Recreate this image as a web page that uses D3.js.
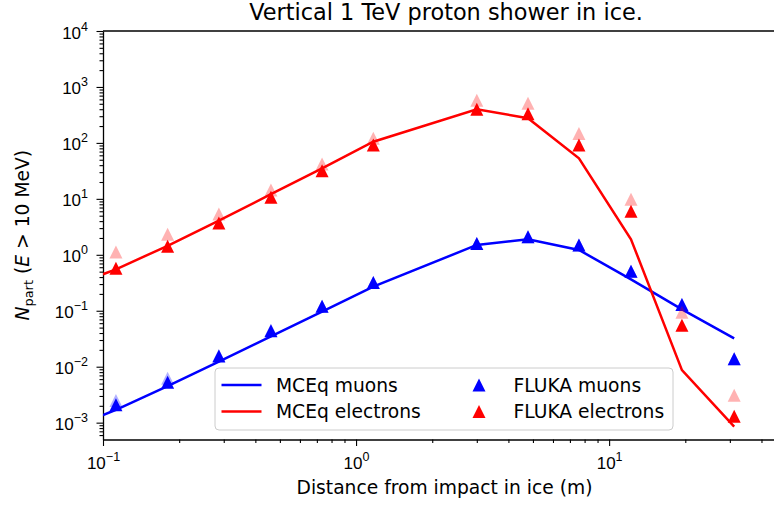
<!DOCTYPE html>
<html>
<head>
<meta charset="utf-8">
<script src="https://cdn.jsdelivr.net/npm/d3@7"></script>
<style>
  body { margin: 0; background: #fff; }
  svg { display: block; font-family: "DejaVu Sans", sans-serif; }
  .tick line { stroke: #000; stroke-width: 1.1; }
  .domain { stroke: #000; stroke-width: 1.3; }
</style>
</head>
<body>
<div id="chart"></div>
<script>
// distances (m)
const flukaX = [0.1125, 0.180, 0.287, 0.461, 0.734, 1.17, 3.00, 4.78, 7.60, 12.2, 19.4, 31.2];
const mceqX = [0.1, 0.1125, 0.180, 0.287, 0.461, 0.734, 1.17, 3.00, 4.78, 7.60, 12.2, 19.4, 31.2];

const mceqMuons = [1.36e-3, 1.7e-3, 4.5e-3, 0.0123, 0.035, 0.096, 0.27, 1.5, 1.89, 1.22, 0.365, 0.106, 0.032];
const mceqElectrons = [0.45, 0.55, 1.45, 4.07, 12.1, 35.2, 105, 400, 276, 53, 1.9, 8.7e-3, 8.5e-4];

const flukaMuons = [2.1e-3, 5.3e-3, 0.0155, 0.044, 0.12, 0.32, 1.6, 2.1, 1.5, 0.51, 0.13, 0.0139];
const flukaElectrons = [0.574, 1.42, 3.7, 10.7, 31.7, 92, 400, 333, 92, 6.0, 0.055, 1.3e-3];
// second (faint) FLUKA set, no legend entry
const flukaMuonsAlt = [2.5e-3, 6.2e-3, 0.0158, 0.045, 0.12, 0.32, 1.6, 2.1, 1.5, 0.51, 0.13, 0.0139];
const flukaElectronsAlt = [1.12, 2.32, 5.36, 14.4, 42, 121, 578, 510, 148, 9.8, 0.094, 3.1e-3];

const xMajor = [0.1, 1, 10];
const yMajor = [1e-3, 1e-2, 1e-1, 1, 10, 100, 1000, 10000];

const w = 774, h = 505;
const pLeft = 103, pRight = 786, pTop = 31, pBottom = 439.5;

const svg = d3.select("#chart").append("svg")
  .attr("width", w)
  .attr("height", h);

const x = d3.scaleLog().domain([0.1, 50]).range([pLeft, pRight]);
const y = d3.scaleLog().domain([5e-4, 1e4]).range([pBottom, pTop]);

function minors(lo, hi) {
  const out = [];
  for (let e = Math.floor(Math.log10(lo)); e <= Math.ceil(Math.log10(hi)); e++) {
    for (let k = 2; k <= 9; k++) {
      const v = k * Math.pow(10, e);
      if (v > lo && v < hi) out.push(v);
    }
  }
  return out;
}

// minor ticks
svg.append("g")
  .attr("transform", "translate(0," + pBottom + ")")
  .call(d3.axisBottom(x).tickValues(minors(0.1, 50)).tickSize(3.5).tickFormat(""))
  .call(g => g.select(".domain").remove());
svg.append("g")
  .attr("transform", "translate(" + pLeft + ",0)")
  .call(d3.axisLeft(y).tickValues(minors(5e-4, 1e4)).tickSize(3.5).tickFormat(""))
  .call(g => g.select(".domain").remove());

// major ticks
const xAxis = svg.append("g")
  .attr("transform", "translate(0," + pBottom + ")")
  .call(d3.axisBottom(x).tickValues(xMajor).tickSize(6.5).tickSizeOuter(0).tickFormat(""));
const yAxis = svg.append("g")
  .attr("transform", "translate(" + pLeft + ",0)")
  .call(d3.axisLeft(y).tickValues(yMajor).tickSize(6.5).tickSizeOuter(0).tickFormat(""));

function powLabel(sel, v) {
  const e = Math.round(Math.log10(v));
  sel.append("tspan").text("10");
  sel.append("tspan")
    .attr("dy", -8)
    .attr("font-size", 12.5)
    .text(e < 0 ? "\u2212" + (-e) : String(e));
}

xAxis.selectAll(".tick").each(function(d) {
  const t = d3.select(this).append("text")
    .attr("y", 29)
    .attr("fill", "#000")
    .attr("font-size", 17)
    .attr("text-anchor", "middle");
  powLabel(t, d);
});
yAxis.selectAll(".tick").each(function(d) {
  const t = d3.select(this).append("text")
    .attr("x", -15)
    .attr("y", 7)
    .attr("fill", "#000")
    .attr("font-size", 17)
    .attr("text-anchor", "end");
  powLabel(t, d);
});

// top spine
svg.append("line")
  .attr("x1", pLeft).attr("x2", pRight)
  .attr("y1", pTop).attr("y2", pTop)
  .attr("stroke", "#000").attr("stroke-width", 1.3);

// clip for data
svg.append("clipPath").attr("id", "plotclip")
  .append("rect").attr("x", pLeft).attr("y", pTop)
  .attr("width", pRight - pLeft).attr("height", pBottom - pTop);

const plot = svg.append("g").attr("clip-path", "url(#plotclip)");

const line = d3.line()
  .x((d, i) => x(mceqX[i]))
  .y(d => y(d));

plot.append("path").datum(mceqMuons)
  .attr("d", line).attr("fill", "none")
  .attr("stroke", "#0000ff").attr("stroke-width", 2.5);
plot.append("path").datum(mceqElectrons)
  .attr("d", line).attr("fill", "none")
  .attr("stroke", "#ff0000").attr("stroke-width", 2.5);

const ms = 13;
const tri = "M0," + (-ms / 2) + "L" + (-ms / 2) + "," + (ms / 2) + "L" + (ms / 2) + "," + (ms / 2) + "Z";

function markers(vals, color, opacity) {
  svg.append("g").selectAll("path")
    .data(vals)
    .enter()
    .append("path")
    .attr("d", tri)
    .attr("transform", (d, i) => "translate(" + x(flukaX[i]) + "," + y(d) + ")")
    .attr("fill", color)
    .attr("fill-opacity", opacity);
}

markers(flukaMuons, "#0000ff", 1);
markers(flukaElectrons, "#ff0000", 1);
markers(flukaMuonsAlt, "#0000ff", 0.3);
markers(flukaElectronsAlt, "#ff0000", 0.3);

// legend
const legend = svg.append("g");
legend.append("rect")
  .attr("x", 215).attr("y", 368)
  .attr("width", 458).attr("height", 62)
  .attr("rx", 4)
  .attr("fill", "#fff").attr("fill-opacity", 0.8)
  .attr("stroke", "#cccccc").attr("stroke-width", 1);

const legendItems = [
  { label: "MCEq muons", color: "#0000ff", kind: "line", col: 0, row: 0 },
  { label: "MCEq electrons", color: "#ff0000", kind: "line", col: 0, row: 1 },
  { label: "FLUKA muons", color: "#0000ff", kind: "marker", col: 1, row: 0 },
  { label: "FLUKA electrons", color: "#ff0000", kind: "marker", col: 1, row: 1 }
];

legendItems.forEach(it => {
  const cy = 385 + it.row * 26.5;
  const x0 = it.col === 0 ? 221.5 : 459;
  if (it.kind === "line") {
    legend.append("line")
      .attr("x1", x0).attr("x2", x0 + 40)
      .attr("y1", cy).attr("y2", cy)
      .attr("stroke", it.color).attr("stroke-width", 2.5);
  } else {
    legend.append("path")
      .attr("d", tri)
      .attr("transform", "translate(" + (x0 + 20) + "," + cy + ")")
      .attr("fill", it.color);
  }
  legend.append("text")
    .attr("x", x0 + 54.5)
    .attr("y", cy + 6.5)
    .attr("font-size", 18.7)
    .text(it.label);
});

// title and axis labels
svg.append("text")
  .attr("x", 446).attr("y", 20)
  .attr("text-anchor", "middle")
  .attr("font-size", 22.4)
  .text("Vertical 1 TeV proton shower in ice.");

svg.append("text")
  .attr("x", 444.5).attr("y", 494)
  .attr("text-anchor", "middle")
  .attr("font-size", 18.7)
  .text("Distance from impact in ice (m)");

const yl = svg.append("text")
  .attr("transform", "translate(29," + ((pTop + pBottom) / 2) + ") rotate(-90)")
  .attr("text-anchor", "middle")
  .attr("font-size", 18.7);
yl.append("tspan").attr("font-style", "italic").text("N");
yl.append("tspan").attr("font-size", 13).attr("dy", 4).text("part");
yl.append("tspan").attr("dy", -4).text(" (");
yl.append("tspan").attr("font-style", "italic").text("E");
yl.append("tspan").text(" > 10 MeV)");
</script>
</body>
</html>
